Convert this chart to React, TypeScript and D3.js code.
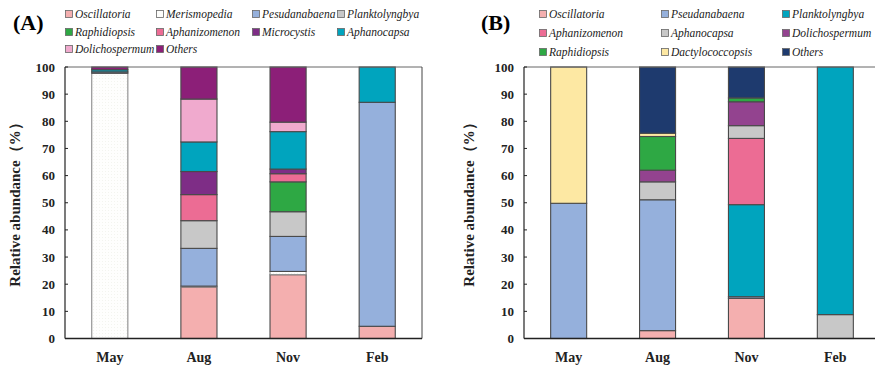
import React from "react";
import * as d3 from "d3";

// Sampling months (x categories) shared by both panels
const months = ["May", "Aug", "Nov", "Feb"];
const yTicks = [0, 10, 20, 30, 40, 50, 60, 70, 80, 90, 100];

// Panel A: relative abundance (%) by genus, values in month order
const speciesA = [
  "Oscillatoria", "Merismopedia", "Pesudanabaena", "Planktolyngbya",
  "Raphidiopsis", "Aphanizomenon", "Microcystis", "Aphanocapsa",
  "Dolichospermum", "Others",
];
const oscillatoriaA = [0, 19.0, 23.5, 4.5];
const merismopediaA = [97.7, 0.3, 1.2, 0];
const pesudanabaenaA = [0.5, 13.9, 12.9, 82.5];
const planktolyngbyaA = [0, 10.2, 9.1, 0];
const raphidiopsisA = [0, 0, 11.0, 0];
const aphanizomenonA = [0, 9.6, 3.0, 0];
const microcystisA = [0, 8.5, 1.7, 0];
const aphanocapsaA = [0.8, 10.9, 13.8, 13.0];
const dolichospermumA = [0, 15.8, 3.5, 0];
const othersA = [1.0, 11.8, 20.3, 0];
const colorsA = [
  "#F4AFAF", "#FDFDFB", "#95B0DC", "#C8C8C8", "#2EA844",
  "#EC6C94", "#7E2D86", "#00A4BE", "#F0AACE", "#8C1F78",
];

// Panel B
const speciesB = [
  "Oscillatoria", "Pseudanabaena", "Planktolyngbya",
  "Aphanizomenon", "Aphanocapsa", "Dolichospermum",
  "Raphidiopsis", "Dactylococcopsis", "Others",
];
const oscillatoriaB = [0, 2.9, 14.8, 0];
const pseudanabaenaB = [49.8, 48.2, 0.6, 0];
const planktolyngbyaB = [0, 0, 33.9, 91.2];
const aphanizomenonB = [0, 0, 24.4, 0];
const aphanocapsaB = [0, 6.6, 4.7, 8.8];
const dolichospermumB = [0, 4.3, 8.8, 0];
const raphidiopsisB = [0, 12.4, 1.4, 0];
const dactylococcopsisB = [50.2, 1.2, 0, 0];
const othersB = [0, 24.4, 11.4, 0];
const colorsB = [
  "#F4AFAF", "#95B0DC", "#00A4BE", "#EC6C94", "#C8C8C8",
  "#93438F", "#2EA844", "#FDE8A3", "#1E3A6E",
];
// In the February column of panel B, Aphanocapsa sits at the base of the bar
const febFirstB = ["Aphanocapsa"];

const seriesA = [
  oscillatoriaA, merismopediaA, pesudanabaenaA, planktolyngbyaA, raphidiopsisA,
  aphanizomenonA, microcystisA, aphanocapsaA, dolichospermumA, othersA,
];
const seriesB = [
  oscillatoriaB, pseudanabaenaB, planktolyngbyaB, aphanizomenonB, aphanocapsaB,
  dolichospermumB, raphidiopsisB, dactylococcopsisB, othersB,
];

const FONT = "'Liberation Serif', 'Times New Roman', serif";

type PanelProps = {
  label: string;
  labelX: number;
  species: string[];
  series: number[][];
  colors: string[];
  firstKeys: Record<string, string[]>;
  x0: number;
  x1: number;
  boxRight: boolean;
  titleX: number;
  legendCols: number[];
  legendRows: number[];
  nCols: number;
};

function Panel(p: PanelProps) {
  const top = 67;
  const bottom = 338.5;
  const x = d3.scaleBand<string>().domain(months).range([p.x0, p.x1]).paddingInner(0.595).paddingOuter(0.3);
  const y = d3.scaleLinear().domain([0, 100]).range([bottom, top]);

  // stack each month's column on its own so a column may lift a genus to the base
  const segments: { key: string; month: string; y0: number; y1: number; color: string }[] = [];
  months.forEach((m, i) => {
    const row: Record<string, number> = {};
    p.species.forEach((s, k) => (row[s] = p.series[k][i]));
    const first = p.firstKeys[m] || [];
    const keys = [...first, ...p.species.filter((s) => !first.includes(s))];
    d3.stack<Record<string, number>>().keys(keys)([row]).forEach((layer) => {
      const d = layer[0];
      if (d[1] - d[0] > 0) {
        segments.push({
          key: layer.key,
          month: m,
          y0: d[0],
          y1: d[1],
          color: p.colors[p.species.indexOf(layer.key)],
        });
      }
    });
  });

  return (
    <g>
      <text x={p.labelX} y={30} fontFamily={FONT} fontWeight="bold" fontSize={22}>{p.label}</text>

      {/* legend */}
      {p.species.map((s, k) => {
        const col = k % p.nCols;
        const row = Math.floor(k / p.nCols);
        const lx = p.legendCols[col];
        const ly = p.legendRows[row];
        return (
          <g key={s}>
            <rect x={lx - 3.5} y={ly - 3.5} width={7} height={7} fill={p.colors[k]} stroke="#666" strokeWidth={0.8} />
            <text x={lx + 6} y={ly + 4} fontFamily={FONT} fontStyle="italic" fontSize={11.5} fill="#222">{s}</text>
          </g>
        );
      })}

      {/* bars */}
      {segments.map((s) => (
        <rect
          key={s.month + s.key}
          x={x(s.month)}
          width={x.bandwidth()}
          y={y(s.y1)}
          height={y(s.y0) - y(s.y1)}
          fill={s.key === "Merismopedia" ? "url(#dots)" : s.color}
          stroke={s.key === "Merismopedia" ? "#8a8a8a" : "#4a4a4a"}
          strokeWidth={1.1}
        />
      ))}

      {/* frame */}
      <line x1={p.x0} x2={p.x1} y1={top} y2={top} stroke="#666" strokeWidth={1} />
      {p.boxRight && <line x1={p.x1} x2={p.x1} y1={top} y2={bottom} stroke="#444" strokeWidth={1} />}
      <line x1={p.x0} x2={p.x0} y1={top} y2={bottom} stroke="#222" strokeWidth={1.2} />
      <line x1={p.x0} x2={p.x1} y1={bottom} y2={bottom} stroke="#222" strokeWidth={1.5} />

      {/* y ticks */}
      {yTicks.map((t) => (
        <g key={t}>
          <line x1={p.x0} x2={p.x0 + 3} y1={y(t)} y2={y(t)} stroke="#222" strokeWidth={1} />
          <text x={p.x0 - 10} y={y(t) + 4.5} textAnchor="end" fontFamily={FONT} fontWeight="bold" fontSize={13} fill="#222">{t}</text>
        </g>
      ))}

      {/* x labels */}
      {months.map((m) => (
        <text key={m} x={(x(m) as number) + x.bandwidth() / 2} y={362} textAnchor="middle" fontFamily={FONT} fontWeight="bold" fontSize={14} fill="#222">{m}</text>
      ))}

      <text
        transform={`translate(${p.titleX},201) rotate(-90)`}
        textAnchor="middle"
        fontFamily={FONT}
        fontWeight="bold"
        fontSize={15}
        fill="#222"
      >
        Relative abundance（%）
      </text>
    </g>
  );
}

export default function App() {
  return (
    <svg width={875} height={369} style={{ position: "absolute", left: 0, top: 0, background: "#fff" }}>
      <defs>
        <pattern id="dots" width={3} height={3} patternUnits="userSpaceOnUse">
          <rect width={3} height={3} fill="#FEFEFD" />
          <rect width={1} height={1} fill="#F3F4EF" />
        </pattern>
      </defs>
      <Panel
        label="(A)"
        labelX={13}
        species={speciesA}
        series={seriesA}
        colors={colorsA}
        firstKeys={{}}
        x0={65}
        x1={422}
        boxRight={true}
        titleX={20}
        legendCols={[69, 160, 256, 341]}
        legendRows={[14, 32, 49]}
        nCols={4}
      />
      <Panel
        label="(B)"
        labelX={481}
        species={speciesB}
        series={seriesB}
        colors={colorsB}
        firstKeys={{ Feb: febFirstB }}
        x0={524}
        x1={880}
        boxRight={false}
        titleX={474}
        legendCols={[543, 665, 786]}
        legendRows={[14, 33, 52]}
        nCols={3}
      />
    </svg>
  );
}
